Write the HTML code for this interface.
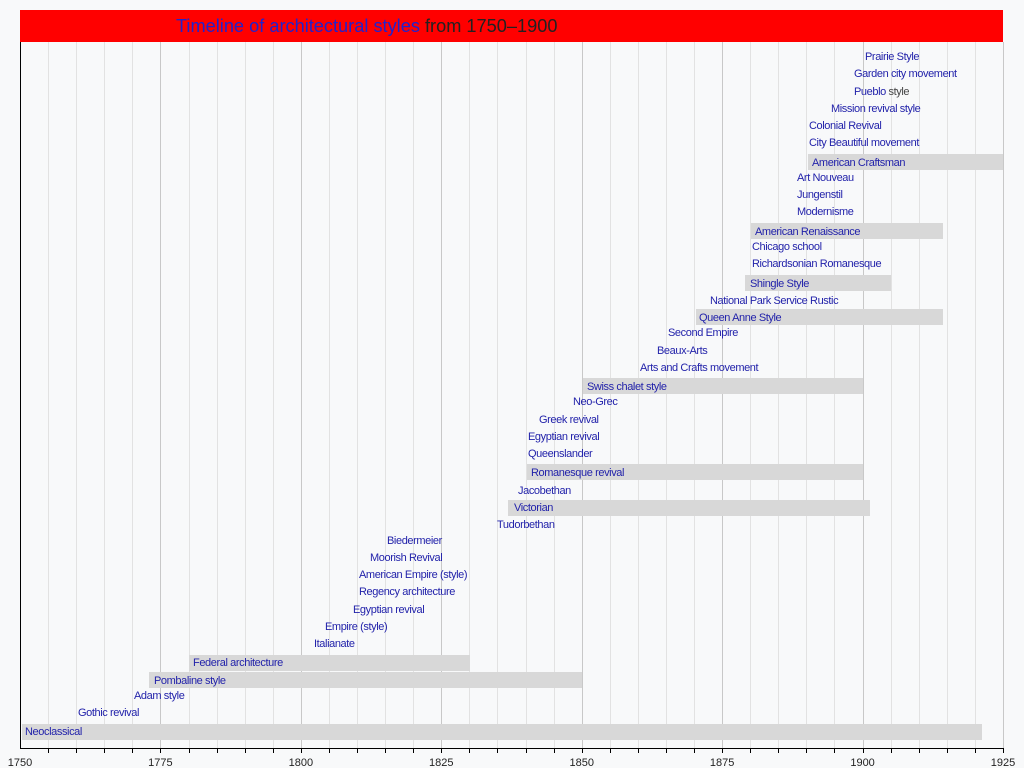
<!DOCTYPE html>
<html><head><meta charset="utf-8"><style>
html,body{margin:0;padding:0;background:#f8f9fa;}
svg{display:block;}
text{font-family:"Liberation Sans",sans-serif;}
.l{font-size:11px;fill:#2222aa;letter-spacing:-0.4px;}
.a{font-size:11px;fill:#222;}
</style></head><body>
<svg width="1024" height="768" viewBox="0 0 1024 768" xmlns="http://www.w3.org/2000/svg">
<rect width="1024" height="768" fill="#f8f9fa"/>
<g id="grid"></g>
<rect x="20" y="10" width="983" height="32" fill="#ff0000"/>
<text x="176" y="32" style="font-size:18.2px;letter-spacing:0px"><tspan fill="#2222cc">Timeline of architectural styles</tspan><tspan fill="#222"> from 1750–1900</tspan></text>
<g fill="#d8d8d8">
<rect x="22" y="724" width="960" height="16"/>
<rect x="149" y="672" width="433" height="16"/>
<rect x="189" y="655" width="281" height="16"/>
<rect x="508" y="500" width="362" height="16"/>
<rect x="527" y="464" width="336" height="16"/>
<rect x="583" y="378" width="280" height="16"/>
<rect x="696" y="309" width="247" height="16"/>
<rect x="745" y="275" width="146" height="16"/>
<rect x="751" y="223" width="192" height="16"/>
<rect x="808" y="154" width="195" height="16"/>
</g>
<g class="l">
<text class="l" x="865" y="60">Prairie Style</text>
<text class="l" x="854" y="77">Garden city movement</text>
<text class="l" x="854" y="95">Pueblo<tspan fill="#444"> style</tspan></text>
<text class="l" x="831" y="112">Mission revival style</text>
<text class="l" x="809" y="129">Colonial Revival</text>
<text class="l" x="809" y="146">City Beautiful movement</text>
<text class="l" x="812" y="166">American Craftsman</text>
<text class="l" x="797" y="181">Art Nouveau</text>
<text class="l" x="797" y="198">Jungenstil</text>
<text class="l" x="797" y="215">Modernisme</text>
<text class="l" x="755" y="235">American Renaissance</text>
<text class="l" x="752" y="250">Chicago school</text>
<text class="l" x="752" y="267">Richardsonian Romanesque</text>
<text class="l" x="750" y="287">Shingle Style</text>
<text class="l" x="710" y="304">National Park Service Rustic</text>
<text class="l" x="699" y="321">Queen Anne Style</text>
<text class="l" x="668" y="336">Second Empire</text>
<text class="l" x="657" y="354">Beaux-Arts</text>
<text class="l" x="640" y="371">Arts and Crafts movement</text>
<text class="l" x="587" y="390">Swiss chalet style</text>
<text class="l" x="573" y="405">Neo-Grec</text>
<text class="l" x="539" y="423">Greek revival</text>
<text class="l" x="528" y="440">Egyptian revival</text>
<text class="l" x="528" y="457">Queenslander</text>
<text class="l" x="531" y="476">Romanesque revival</text>
<text class="l" x="518" y="494">Jacobethan</text>
<text class="l" x="514" y="511">Victorian</text>
<text class="l" x="497" y="528">Tudorbethan</text>
<text class="l" x="387" y="544">Biedermeier</text>
<text class="l" x="370" y="561">Moorish Revival</text>
<text class="l" x="359" y="578">American Empire (style)</text>
<text class="l" x="359" y="595">Regency architecture</text>
<text class="l" x="353" y="613">Egyptian revival</text>
<text class="l" x="325" y="630">Empire (style)</text>
<text class="l" x="314" y="647">Italianate</text>
<text class="l" x="193" y="666">Federal architecture</text>
<text class="l" x="154" y="684">Pombaline style</text>
<text class="l" x="134" y="699">Adam style</text>
<text class="l" x="78" y="716">Gothic revival</text>
<text class="l" x="25" y="735">Neoclassical</text>
</g>
<line x1="20.5" y1="42" x2="20.5" y2="748" stroke="#000"/>
<line x1="20" y1="748.5" x2="1003" y2="748.5" stroke="#000"/>
<g id="ticks"></g>
<script>
var ns="http://www.w3.org/2000/svg",g=document.getElementById('grid'),t=document.getElementById('ticks');
for(var i=1;i<=35;i++){var x=Math.round(20+i*983/35)+0.5;
var l=document.createElementNS(ns,'line');l.setAttribute('x1',x);l.setAttribute('x2',x);l.setAttribute('y1',42);l.setAttribute('y2',748);l.setAttribute('stroke',i%5==0?'#c8c8c8':'#e2e2e2');g.appendChild(l);
var k=document.createElementNS(ns,'line');k.setAttribute('x1',x);k.setAttribute('x2',x);k.setAttribute('y1',748);k.setAttribute('y2',753);k.setAttribute('stroke','#000');t.appendChild(k);}
for(var j=0;j<=7;j++){var tx=document.createElementNS(ns,'text');tx.setAttribute('x',20+j*983/7);tx.setAttribute('y',766);tx.setAttribute('text-anchor','middle');tx.setAttribute('class','a');tx.textContent=1750+25*j;t.appendChild(tx);}
</script>
</svg>
</body></html>
